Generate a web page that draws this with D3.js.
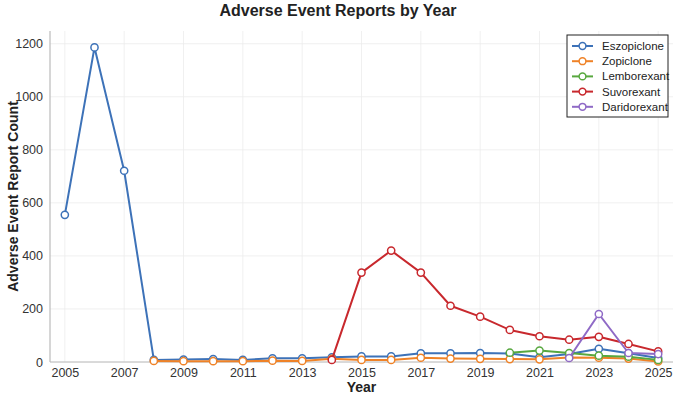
<!DOCTYPE html>
<html lang="en">
<head>
<meta charset="UTF-8">
<title>Adverse Event Reports by Year</title>
<style>
html, body { margin: 0; padding: 0; background: #fff; }
body { font-family: 'Liberation Sans', Arial, sans-serif; }
.grid line { stroke: #ececec; stroke-width: 0.8; }
.axis text { fill: #333; font-size: 12.5px; font-family: 'Liberation Sans', Arial, sans-serif; }
.axis .domain { stroke: #bbb; stroke-width: 1.2; }
.axis line { stroke: none; }
</style>
</head>
<body>
<svg width="676" height="394"></svg>
<script src="https://cdnjs.cloudflare.com/ajax/libs/d3/7.8.5/d3.min.js"></script>
<script>
const years = d3.range(2005, 2026);
const xTicks = [2005, 2007, 2009, 2011, 2013, 2015, 2017, 2019, 2021, 2023, 2025];
const yTicks = [0, 200, 400, 600, 800, 1000, 1200];

const drugNames = ['Eszopiclone', 'Zopiclone', 'Lemborexant', 'Suvorexant', 'Daridorexant'];
const drugColors = ['#3d72b8', '#ef8227', '#58a83f', '#c8282d', '#8f6ac6'];

// value per year, null = no reports that year
const eszopiclone = [555, 1186, 721, 8, 9, 11, 8, 14, 14, 18, 21, 21, 33, 33, 34, 32, 18, 30, 50, 33, 15];
const zopiclone = [null, null, null, 4, 3, 3, 3, 5, 4, 12, 8, 8, 16, 13, 12, 11, 10, 17, 16, 13, 2];
const lemborexant = [null, null, null, null, null, null, null, null, null, null, null, null, null, null, null, 35, 43, 34, 24, 20, 8];
const suvorexant = [null, null, null, null, null, null, null, null, null, 8, 337, 420, 337, 212, 171, 121, 97, 84, 95, 68, 40];
const daridorexant = [null, null, null, null, null, null, null, null, null, null, null, null, null, null, null, null, null, 15, 181, 34, 30];

const seriesValues = [eszopiclone, zopiclone, lemborexant, suvorexant, daridorexant];

const svg = d3.select('svg');
const margin = { left: 50, right: 3, top: 31, bottom: 32 };
const W = 676, H = 394;

const x = d3.scaleLinear().domain([2004.5, 2025.5]).range([margin.left, W - margin.right]);
const y = d3.scaleLinear().domain([0, 1248]).range([H - margin.bottom, margin.top]);

// grid
const grid = svg.append('g').attr('class', 'grid');
grid.selectAll('.vx').data(xTicks).enter().append('line')
  .attr('x1', d => x(d)).attr('x2', d => x(d))
  .attr('y1', y.range()[1]).attr('y2', y.range()[0]);
grid.selectAll('.hy').data(yTicks).enter().append('line')
  .attr('x1', x.range()[0]).attr('x2', x.range()[1])
  .attr('y1', d => y(d)).attr('y2', d => y(d));

// axes
svg.append('g').attr('class', 'axis')
  .attr('transform', `translate(0,${y.range()[0]})`)
  .call(d3.axisBottom(x).tickValues(xTicks).tickFormat(d3.format('d')).tickSize(0).tickPadding(6))
  .call(g => g.select('.domain').attr('d', `M${x.range()[0]},0H${x.range()[1]}`));

svg.append('g').attr('class', 'axis')
  .attr('transform', `translate(${x.range()[0]},0)`)
  .call(d3.axisLeft(y).tickValues(yTicks).tickFormat(d3.format('d')).tickSize(0).tickPadding(7))
  .call(g => g.select('.domain').attr('d', `M0,${y.range()[0]}V${y.range()[1]}`));

// series
const line = d3.line()
  .defined(d => d.v !== null)
  .x(d => x(d.year)).y(d => y(d.v));

drugNames.forEach((name, i) => {
  const pts = years.map((yr, j) => ({ year: yr, v: seriesValues[i][j] }));
  const g = svg.append('g');
  g.append('path').datum(pts)
    .attr('d', line)
    .attr('fill', 'none')
    .attr('stroke', drugColors[i])
    .attr('stroke-width', 2)
    .attr('stroke-linejoin', 'round');
  g.selectAll('circle').data(pts.filter(d => d.v !== null)).enter().append('circle')
    .attr('cx', d => x(d.year)).attr('cy', d => y(d.v))
    .attr('r', 3.6)
    .attr('fill', '#fff')
    .attr('stroke', drugColors[i])
    .attr('stroke-width', 1.5);
});

// titles
svg.append('text')
  .attr('x', W / 2).attr('y', 16)
  .attr('text-anchor', 'middle')
  .attr('font-size', 16).attr('font-weight', 'bold').attr('fill', '#222')
  .text('Adverse Event Reports by Year');

svg.append('text')
  .attr('x', (x.range()[0] + x.range()[1]) / 2).attr('y', 392)
  .attr('text-anchor', 'middle')
  .attr('font-size', 14).attr('font-weight', 'bold').attr('fill', '#222')
  .text('Year');

svg.append('text')
  .attr('transform', `translate(13,${(y.range()[0] + y.range()[1]) / 2}) rotate(-90)`)
  .attr('text-anchor', 'middle').attr('dy', '0.35em')
  .attr('font-size', 14).attr('font-weight', 'bold').attr('fill', '#222')
  .text('Adverse Event Report Count');

// legend
const leg = svg.append('g').attr('transform', 'translate(567,35)');
leg.append('rect')
  .attr('width', 101).attr('height', 82)
  .attr('fill', '#fff').attr('stroke', '#222').attr('stroke-width', 1);
drugNames.forEach((name, i) => {
  const row = leg.append('g').attr('transform', `translate(0,${11 + i * 15.2})`);
  row.append('line').attr('x1', 5).attr('x2', 26)
    .attr('stroke', drugColors[i]).attr('stroke-width', 2);
  row.append('circle').attr('cx', 15.5).attr('r', 3.4)
    .attr('fill', '#fff').attr('stroke', drugColors[i]).attr('stroke-width', 1.5);
  row.append('text').attr('x', 35).attr('dy', '0.35em')
    .attr('font-size', 11.5).attr('fill', '#222')
    .text(name);
});
</script>
</body>
</html>
